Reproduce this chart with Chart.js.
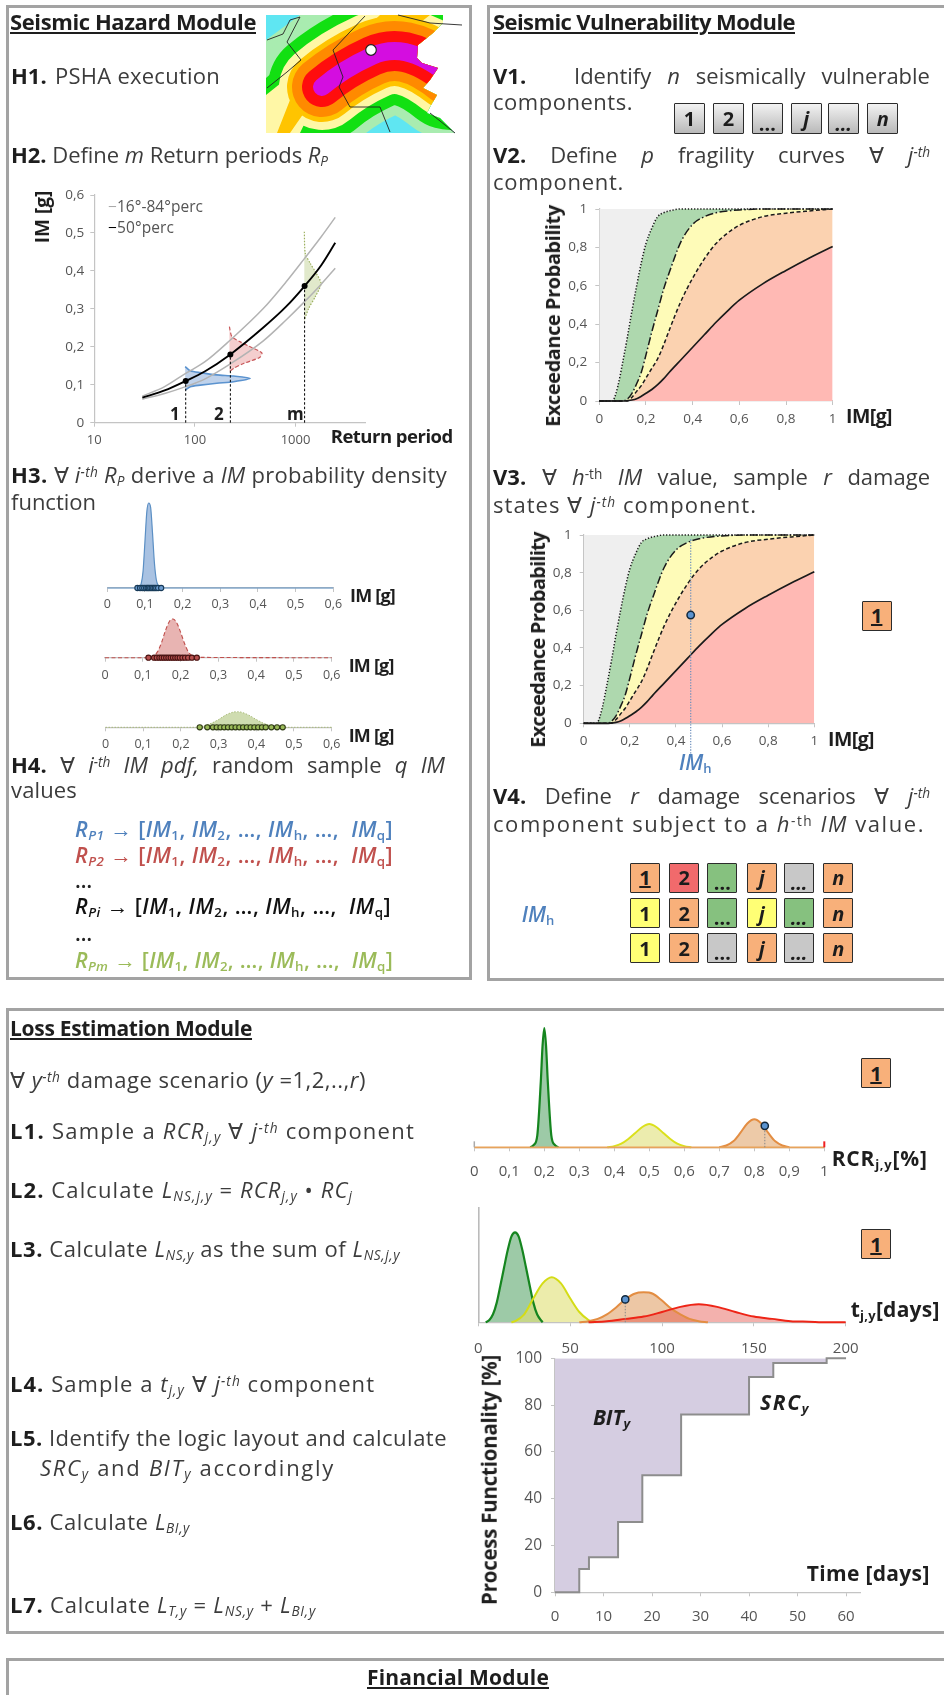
<!DOCTYPE html>
<html><head><meta charset="utf-8">
<script src="https://cdn.jsdelivr.net/npm/chart.js@4"></script>
<style>
html,body{margin:0;padding:0;background:#fff;width:944px;height:1695px;overflow:hidden}
#page{position:absolute;left:0;top:0;width:944px;height:1695px;overflow:hidden;filter:blur(.45px);font-family:"Open Sans",sans-serif;color:#3c3c3c}
.panel{position:absolute;border:3.5px solid #a3a3a3;box-sizing:border-box;background:#fff}
.t{position:absolute;white-space:pre;line-height:1.1}
.t sub,.t sup{font-size:.62em;line-height:0;vertical-align:baseline;position:relative}
.t sub{top:.22em}.t sup{top:-.42em}
.t b{color:#1e1e1e}
.box{position:absolute;box-sizing:border-box;border:1.6px solid #2c2c2c;display:flex;align-items:center;justify-content:center;font-weight:700;font-size:20px;color:#1c1c1c;border-radius:1px}
canvas{position:absolute;pointer-events:none}
</style></head><body><div id="page"></div>
<script>
// ---------- H2 hazard curves (Return period, IM)
const hazRp=[30,50,81,125,225,475,800,1230,1800,2480];
const hazMedian=[.066,.085,.11,.135,.18,.25,.305,.36,.415,.474];
const hazUpper=[.07,.095,.13,.16,.218,.3,.37,.433,.49,.541];
const hazLower=[.062,.077,.095,.115,.155,.215,.27,.319,.365,.407];
const pdfBlueRp=[80,90,113,165,242,354,242,165,113,90,80];
const pdfBlueIm=[.148,.137,.132,.126,.123,.117,.108,.104,.099,.095,.086];
const pdfRedRp=[220,233,282,354,463,440,304,242,220];
const pdfRedIm=[.253,.227,.213,.2,.184,.172,.156,.143,.134];
const pdfGreenRp=[1222,1250,1400,1570,1790,1570,1350,1222];
const pdfGreenIm=[.503,.446,.42,.398,.367,.332,.301,.27];
const returnMarksRp=[81,225,1230];
const returnMarksIm=[.11,.18,.36];
const hazTicksX=[10,100,1000];
// ---------- H3 IM pdfs
const h3BlueX=[0,.08,.085,.09,.095,.1,.105,.11,.115,.12,.125,.13,.135,.14,.145,.6];
const h3BlueY=[0,0,.01,.05,.2,.55,.9,1,.95,.65,.3,.1,.03,.01,0,0];
const h3BlueSamples=[.08,.087,.093,.098,.103,.107,.11,.114,.118,.122,.126,.13,.135,.143];
const h3RedX=[0,.115,.12,.13,.14,.15,.16,.17,.18,.19,.2,.21,.22,.23,.24,.6];
const h3RedY=[0,0,.01,.05,.17,.4,.7,.93,1,.9,.66,.38,.16,.05,.01,0];
const h3RedSamples=[.115,.13,.137,.144,.15,.156,.162,.168,.174,.18,.186,.192,.198,.205,.212,.22,.23,.243];
const h3GreenX=[0,.24,.26,.28,.3,.32,.34,.35,.36,.38,.4,.42,.44,.46,.48,.6];
const h3GreenY=[0,0,.08,.25,.5,.8,.98,1,.97,.78,.5,.25,.1,.03,0,0];
const h3GreenSamples=[.25,.27,.285,.295,.305,.315,.325,.335,.345,.355,.365,.375,.385,.395,.405,.415,.425,.44,.455,.47];
// ---------- fragility curves
const fragIM=[0,.05,.06,.08,.1,.12,.14,.16,.18,.2,.225,.25,.275,.3,.35,.4,.45,.5,.55,.6,.7,.8,.9,1];
const fragSlight=[0,0,.005,.08,.2,.33,.47,.6,.72,.82,.9,.96,.98,.99,1,1,1,1,1,1,1,1,1,1];
const fragModerate=[0,0,0,0,0,.01,.04,.09,.15,.24,.36,.47,.58,.67,.83,.92,.96,.98,.99,.995,1,1,1,1];
const fragExtensive=[0,0,0,0,0,0,.02,.05,.08,.12,.17,.22,.29,.37,.52,.64,.74,.82,.875,.915,.96,.978,.99,1];
const fragComplete=[0,0,0,0,0,.002,.005,.012,.025,.04,.06,.085,.115,.15,.215,.28,.345,.41,.47,.525,.61,.68,.745,.805];
const fragTop=[1,1,1,1,1,1,1,1,1,1,1,1,1,1,1,1,1,1,1,1,1,1,1,1];
const imhValue=[.464];
const imhProb=[.575];
const imhLineY=[-.16,.98];
// ---------- RCR densities
const rcrGreenX=[.16,.17,.18,.19,.195,.2,.205,.21,.22,.23,.24];
const rcrGreenY=[0,.02,.1,.55,.85,1,.85,.55,.1,.02,0];
const rcrYellowX=[.38,.4,.42,.44,.46,.48,.5,.52,.54,.56,.58,.6,.62];
const rcrYellowY=[0,.01,.03,.07,.12,.17,.195,.17,.12,.07,.03,.01,0];
const rcrOrangeX=[.7,.72,.74,.76,.78,.8,.82,.84,.86,.88,.9];
const rcrOrangeY=[0,.015,.05,.12,.2,.235,.2,.12,.05,.015,0];
const rcrBaseX=[0,1];
const rcrBaseY=[0,0];
const rcrSampleX=[.83];
const rcrSampleY=[.18];
// ---------- repair-time densities
const tGreenX=[4,6,8,10,12,14,16,18,20,22,24,26,28,30,32,35];
const tGreenY=[0,.02,.07,.17,.32,.477,.63,.75,.787,.75,.63,.477,.32,.17,.07,0];
const tYellowX=[18,20,25,30,35,40,45,50,55,60,63];
const tYellowY=[0,.01,.07,.21,.34,.394,.34,.21,.09,.02,0];
const tOrangeX=[55,60,65,70,75,80,85,90,95,100,105,110,115,120,125];
const tOrangeY=[0,.01,.03,.07,.13,.2,.25,.262,.25,.19,.12,.07,.03,.01,0];
const tRedX=[60,70,80,90,100,110,120,130,140,150,160,170,180,190,200];
const tRedY=[0,.01,.03,.05,.09,.135,.157,.135,.09,.05,.03,.01,.005,0,0];
const tSampleX=[80];
const tSampleY=[.2];
// ---------- recovery curve
const recTime=[0,5,7,13,18,26,40,45,56,60];
const recFunc=[0,10,15,30,50,76,92,98,100,100];

const page=document.getElementById('page');
const el=(tag,css,html)=>{const e=document.createElement(tag);e.style.cssText=css;if(html!=null)e.innerHTML=html;page.appendChild(e);return e};
function panel(l,t,r,b){el('div',`left:${l}px;top:${t}px;width:${r-l}px;height:${b-t}px`).className='panel'}
function T(x,base,html,o={}){
  const e=el('div',`left:${x}px;top:0;font-size:${o.size||22}px;font-weight:${o.bold?700:(o.weight||400)};color:${o.color||'#3c3c3c'};${o.italic?'font-style:italic;':''}`,html);
  e.className='t';
  const m=document.createElement('span');m.style.cssText='display:inline-block;width:0;height:0';e.appendChild(m);
  if(o.w){const w=e.getBoundingClientRect().width,txt=e.textContent;
    if(o.ws){const n=(txt.match(/ /g)||[]).length;e.style.wordSpacing=((o.w-w)/n)+'px'}
    else e.style.letterSpacing=((o.w-w)/txt.length)+'px'}
  const d=m.getBoundingClientRect().bottom-e.getBoundingClientRect().top;
  e.style.top=(base-d)+'px';return e}
function V(cx,cy,html,o={}){ // rotated axis title
  const e=el('div',`left:${cx}px;top:${cy}px;transform:translate(-50%,-50%) rotate(-90deg);font-size:${o.size||18}px;font-weight:700;color:#1e1e1e`,html);
  e.className='t';
  if(o.w){const w=e.offsetWidth;e.style.letterSpacing=((o.w-w)/e.textContent.length)+'px'}
  return e}
function B(x,y,txt,bg,o={}){const e=el('div',`left:${x}px;top:${y}px;width:${o.w||30}px;height:${o.h||30}px;background:${bg};${o.italic?'font-style:italic;':''}${o.under?'text-decoration:underline;':''}${o.dots?'padding-top:9px;':''}`,txt);e.className='box';return e}

const pts=(xs,ys)=>xs.map((x,i)=>({x,y:ys[i]}));
const L=(xs,ys,o={})=>Object.assign({type:'line',data:pts(xs,ys),borderColor:'#000',borderWidth:1.6,pointRadius:0,fill:false,tension:0,clip:false},o);
const fmt=v=>String(+(+v).toFixed(2)).replace('.',',');
function plot(r,xc,yc,datasets){
  const m=70,A=50,cl=Math.floor(r.l-m),ct=Math.floor(r.t-m),cw=Math.ceil(r.r+m)-cl,ch=Math.ceil(r.b+m)-ct;
  const c=el('canvas',`left:${cl}px;top:${ct}px;width:${cw}px;height:${ch}px`);c.width=cw;c.height=ch;
  datasets.forEach((d,i)=>{d.order=datasets.length-i});
  new Chart(c,{data:{datasets},options:{responsive:false,animation:false,devicePixelRatio:1,events:[],
    layout:{autoPadding:false,padding:{left:r.l-cl-A,top:r.t-ct,right:cl+cw-r.r,bottom:ct+ch-r.b-A}},
    plugins:{legend:{display:false},tooltip:{enabled:false},title:{display:false},filler:{drawTime:'beforeDatasetsDraw'}},
    scales:{x:Object.assign({position:'bottom',afterFit:s=>{s.height=A}},xc),y:Object.assign({position:'left',afterFit:s=>{s.width=A}},yc)}}});
}
const xAx=(type,min,max,step,size,pad,extra={})=>Object.assign({type,min,max,offset:false,
  border:{color:'#c4c4c4',width:1.2},grid:{drawOnChartArea:false,color:'#c4c4c4',tickLength:4},
  ticks:{stepSize:step,autoSkip:false,maxRotation:0,includeBounds:false,padding:pad,color:'#555',font:{size,family:'"Open Sans"'},callback:v=>fmt(v)}},extra);
const yAx=(min,max,step,size,pad)=>({type:'linear',min,max,border:{color:'#c4c4c4',width:1.2},grid:{drawOnChartArea:false,color:'#c4c4c4',tickLength:4},
  ticks:{stepSize:step,autoSkip:false,includeBounds:false,padding:pad,color:'#555',font:{size,family:'"Open Sans"'},callback:v=>fmt(v)}});
const noY=(max)=>({type:'linear',min:0,max,display:false});

/* ===== panels ===== */
panel(6,5,472,980);panel(487,5,960,981);panel(6,1008,960,1634);panel(6,1658,960,1720);

/* ===== map ===== */
const map=document.createElementNS('http://www.w3.org/2000/svg','svg');
map.setAttribute('width','944');map.setAttribute('height','160');map.style.cssText='position:absolute;left:0;top:0';
const cp='M322,87 C335,76 352,65 372,56 S415,48 450,76';
map.innerHTML=`<defs><clipPath id="mc"><polygon points="266,15 443,15 443,23 433,33 418,45 417,58 422,63 438,68 430,80 423,88 437,95 430,107 427,113 440,118 455,133 266,133"/></clipPath></defs>
<g clip-path="url(#mc)" fill="none" stroke-linecap="round"><rect x="266" y="15" width="200" height="118" fill="#5fe6f2"/>
<polygon points="266,40 300,15 430,15 372,60 322,87 266,133" fill="#a9ecb0" stroke="none"/><path d="${cp}" stroke="#a9ecb0" stroke-width="127"/>
<polygon points="266,78 338,15 430,15 372,60 322,87 266,133" fill="#12e012" stroke="none"/><path d="${cp}" stroke="#12e012" stroke-width="108"/>
<polygon points="266,95 366,15 430,15 372,60 322,87 300,133 266,133" fill="#fff7a6" stroke="none"/><path d="${cp}" stroke="#fff7a6" stroke-width="86"/>
<polygon points="277,133 290,100 380,15 430,15 372,60 322,87 290,133" fill="#ffc400" stroke="none"/><path d="${cp}" stroke="#ffc400" stroke-width="70"/>
<path d="${cp}" stroke="#ff8a00" stroke-width="60"/><path d="${cp}" stroke="#ff0d0d" stroke-width="40"/><path d="${cp}" stroke="#d40de0" stroke-width="18"/></g>
<g fill="none" stroke="#222" stroke-width=".9"><polyline points="267,40 283,34 290,20 300,17"/><polyline points="267,88 287,72 301,60 287,42 300,17"/><polyline points="365,16 333,50 343,77 339,87 350,107 380,107 390,132"/><polyline points="398,15 430,23 462,25"/><polyline points="430,113 455,133"/></g>
<circle cx="371" cy="50" r="5.3" fill="#fff" stroke="#222" stroke-width="1.2"/>`;
page.appendChild(map);

/* ===== left text ===== */
T(10,30,'<u>Seismic Hazard Module</u>',{bold:true,w:246,color:'#1e1e1e'});
T(11,84,'H1.',{bold:true,color:'#1e1e1e'});T(55,84,'PSHA execution',{w:165});
T(11,163,'<b>H2.</b> Define <i>m</i> Return periods <i>R<sub>P</sub></i>',{w:317});
T(11,483,'<b>H3.</b> ∀ <i>i<sup>-th</sup> R<sub>P</sub></i> derive a <i>IM</i> probability density',{w:436});
T(11,510,'function',{w:85});
T(11,773,'<b>H4.</b> ∀ <i>i<sup>-th</sup> IM pdf,</i> random sample <i>q IM</i>',{w:434,ws:true});
T(11,798,'values',{w:66});
const rpRow=(r)=>`<i>R<sub>${r}</sub></i> → [<i>IM</i><sub>1</sub>, <i>IM</i><sub>2</sub>, …, <i>IM</i><sub>h</sub>, …,  <i>IM</i><sub>q</sub>]`;
T(75,837,rpRow('P1'),{w:318,weight:600,color:'#4f81bd',size:21.5});
T(75,863,rpRow('P2'),{w:318,weight:600,color:'#c0504d',size:21.5});
T(75,888,'…',{size:21,weight:600,color:'#222'});
T(75,914,rpRow('Pi'),{w:316,weight:600,color:'#111',size:21.5});
T(75,941,'…',{size:21,weight:600,color:'#222'});
T(75,968,rpRow('Pm'),{w:318,weight:600,color:'#9bbb59',size:21.5});

/* ===== H2 chart ===== */
plot({l:94.3,r:365,t:195,b:422.7},
 xAx('logarithmic',10,4900,null,13,6,{afterBuildTicks:s=>{s.ticks=hazTicksX.map(value=>({value}))}}),
 yAx(0,.6,.1,13.5,6),
 [L(pdfBlueRp,pdfBlueIm,{fill:'shape',backgroundColor:'rgba(170,195,228,.75)',borderColor:'#5b93cf',tension:.25}),
  L(pdfRedRp,pdfRedIm,{fill:'shape',backgroundColor:'rgba(240,190,190,.75)',borderColor:'#c8585a',borderDash:[4,2],borderWidth:1.2,tension:.25}),
  L(pdfGreenRp,pdfGreenIm,{fill:'shape',backgroundColor:'rgba(218,228,190,.8)',borderColor:'#9db060',borderDash:[1.5,1.5],borderWidth:1.2,tension:.25}),
  L(hazRp,hazUpper,{borderColor:'#b3b3b3',borderWidth:1.5,cubicInterpolationMode:'monotone'}),
  L(hazRp,hazLower,{borderColor:'#b3b3b3',borderWidth:1.5,cubicInterpolationMode:'monotone'}),
  L(hazRp,hazMedian,{borderColor:'#000',borderWidth:1.9,cubicInterpolationMode:'monotone'}),
  L([returnMarksRp[0],returnMarksRp[0]],[0,returnMarksIm[0]],{borderWidth:1,borderDash:[2.5,2]}),
  L([returnMarksRp[1],returnMarksRp[1]],[0,returnMarksIm[1]],{borderWidth:1,borderDash:[2.5,2]}),
  L([returnMarksRp[2],returnMarksRp[2]],[0,returnMarksIm[2]],{borderWidth:1,borderDash:[2.5,2]}),
  L(returnMarksRp,returnMarksIm,{showLine:false,pointRadius:2.2,pointBackgroundColor:'#000',pointBorderColor:'#000'})]);
V(42,217,'IM [g]',{size:19,w:52});
T(108,212,'<span style="color:#aaa">−</span>16°-84°perc',{size:15.5,w:95,color:'#555'});
T(108,233,'<span style="color:#000">−</span>50°perc',{size:15.5,w:66,color:'#555'});
T(330.7,443,'Return period',{bold:true,size:18.5,w:122,color:'#1e1e1e'});
T(170,420,'1',{bold:true,size:17,color:'#1e1e1e'});T(214,420,'2',{bold:true,size:17,color:'#1e1e1e'});T(287,420,'m',{bold:true,size:17,color:'#1e1e1e'});

/* ===== H3 charts ===== */
const sampleSet=(xs,fill,stroke)=>L(xs,xs.map(()=>0),{showLine:false,pointRadius:2.6,pointBackgroundColor:fill,pointBorderColor:stroke,pointBorderWidth:1.1});
plot({l:107.3,r:333.3,t:503,b:588},xAx('linear',0,.6,.1,12.5,5),noY(1),
 [L(h3BlueX,h3BlueY,{fill:'origin',backgroundColor:'#a9c2e2',borderColor:'#5b8fc4',borderWidth:1.2,cubicInterpolationMode:'monotone'}),sampleSet(h3BlueSamples,'#6b9bcf','#173a58')]);
plot({l:105,r:331.7,t:619,b:657.7},xAx('linear',0,.6,.1,12.5,6),noY(1),
 [L(h3RedX,h3RedY,{fill:'origin',backgroundColor:'#e8b4b2',borderColor:'#c0504d',borderDash:[4,2.5],borderWidth:1.1,cubicInterpolationMode:'monotone'}),sampleSet(h3RedSamples,'#b8514f','#4a1413')]);
plot({l:105.5,r:331.7,t:711.7,b:727.3},xAx('linear',0,.6,.1,12.5,6),noY(1),
 [L(h3GreenX,h3GreenY,{fill:'origin',backgroundColor:'#cfdcb0',borderColor:'#a8bb78',borderDash:[1.5,1.5],borderWidth:1,cubicInterpolationMode:'monotone'}),sampleSet(h3GreenSamples,'#9bbb59','#2f3a16')]);
T(350,601.7,'IM [g]',{bold:true,size:18,w:45,color:'#1e1e1e'});
T(348.7,671.7,'IM [g]',{bold:true,size:18,w:45,color:'#1e1e1e'});
T(348.7,741.7,'IM [g]',{bold:true,size:18,w:45,color:'#1e1e1e'});

/* ===== right text ===== */
T(493,30,'<u>Seismic Vulnerability Module</u>',{bold:true,w:302,color:'#1e1e1e'});
T(493,84,'<b>V1.</b>   Identify <i>n</i> seismically vulnerable',{w:437,ws:true});
T(493,110,'components.',{w:140});
T(493,163,'<b>V2.</b> Define <i>p</i> fragility curves ∀ <i>j<sup>-th</sup></i>',{w:437,ws:true});
T(493,190,'component.',{w:131});
T(493,485,'<b>V3.</b> ∀ <i>h</i><sup>-th</sup> <i>IM</i> value, sample <i>r</i> damage',{w:437,ws:true});
T(493,513,'states ∀ <i>j<sup>-th</sup></i> component.',{w:264});
T(493,804,'<b>V4.</b> Define <i>r</i> damage scenarios ∀ <i>j<sup>-th</sup></i>',{w:437,ws:true});
T(493,832,'component subject to a <i>h</i><sup>-th</sup> <i>IM</i> value.',{w:432});
const btnBg='linear-gradient(#f2f2f2,#b9b9b9)';
const btnX=[674,713,751.7,790.7,828,867.3],btnT=['1','2','…','j','…','n'];
btnX.forEach((x,i)=>B(x,103,btnT[i],btnBg,{w:31,h:31,italic:i>2,dots:btnT[i]=='…'}));
const cO='#f8b07a',cR='#f16a6c',cG='#86c17f',cA='#c8c8c8',cY='#ffff75';
const gridX=[630,669.3,707.3,746.7,784,823.3],gridY=[862.7,898.3,933.3];
const gridCol=[[cO,cR,cG,cO,cA,cO],[cY,cO,cG,cY,cG,cO],[cY,cO,cA,cO,cA,cO]];
gridY.forEach((y,r)=>gridX.forEach((x,i)=>B(x,y,btnT[i],gridCol[r][i],{italic:i>2,dots:btnT[i]=='…',under:r==0&&i==0})));
B(861.7,600.7,'1',cO,{under:true});
B(861,1058,'1',cO,{under:true});B(861,1229,'1',cO,{under:true});
T(521.7,921.7,'<i>IM</i><sub>h</sub>',{weight:600,color:'#4f81bd',size:21});

/* ===== fragility charts ===== */
function fragDatasets(){return [
 L(fragIM,fragComplete,{fill:'origin',backgroundColor:'#ffb9b4',borderColor:'#1a1a1a',borderWidth:1.7,cubicInterpolationMode:'monotone'}),
 L(fragIM,fragExtensive,{fill:'-1',backgroundColor:'#fbd2b0',borderColor:'#1a1a1a',borderWidth:1.5,borderDash:[4,2.5],cubicInterpolationMode:'monotone'}),
 L(fragIM,fragModerate,{fill:'-1',backgroundColor:'#fefbb8',borderColor:'#1a1a1a',borderWidth:1.5,borderDash:[8,2.5,1.5,2.5],cubicInterpolationMode:'monotone'}),
 L(fragIM,fragSlight,{fill:'-1',backgroundColor:'#aed8ae',borderColor:'#1a1a1a',borderWidth:1.5,borderDash:[1.3,1.8],cubicInterpolationMode:'monotone'}),
 L(fragIM,fragTop,{fill:'-1',backgroundColor:'#efefef',borderColor:'rgba(0,0,0,0)',borderWidth:0})]}
plot({l:599.3,r:832.7,t:209,b:401},xAx('linear',0,1,.2,13.5,6),yAx(0,1,.2,13.5,8),fragDatasets());
V(553,316,'Exceedance Probability',{size:20,w:222});
T(846,423,'IM[g]',{bold:true,size:19.5,w:46,color:'#1e1e1e'});
plot({l:583.7,r:814.3,t:535,b:723.3},xAx('linear',0,1,.2,13.5,6),yAx(0,1,.2,13.5,8),
 fragDatasets().concat([
  L([imhValue[0],imhValue[0]],imhLineY,{borderColor:'#6d8fbd',borderWidth:1.2,borderDash:[1.3,1.5]}),
  L(imhValue,imhProb,{showLine:false,pointRadius:3.7,pointBackgroundColor:'#5b93cf',pointBorderColor:'#12283c',pointBorderWidth:1.5})]));
V(538,640,'Exceedance Probability',{size:20,w:216});
T(828,746,'IM[g]',{bold:true,size:19.5,w:46,color:'#1e1e1e'});
T(679,770,'<i>IM</i><sub>h</sub>',{weight:600,color:'#4f81bd',size:21});

/* ===== loss text ===== */
T(10,1036,'<u>Loss Estimation Module</u>',{bold:true,w:242,color:'#1e1e1e',size:21});
T(10,1088,'∀ <i>y<sup>-th</sup></i> damage scenario (<i>y</i> =1,2,..,<i>r</i>)',{w:356});
T(10,1139,'<b>L1.</b> Sample a <i>RCR<sub>j,y</sub></i> ∀ <i>j<sup>-th</sup></i> component',{w:405});
T(10,1198,'<b>L2.</b> Calculate <i>L<sub>NS,j,y</sub></i> = <i>RCR<sub>j,y</sub></i> • <i>RC<sub>j</sub></i>',{w:343});
T(10,1257,'<b>L3.</b> Calculate <i>L<sub>NS,y</sub></i> as the sum of <i>L<sub>NS,j,y</sub></i>',{w:390});
T(10,1392,'<b>L4.</b> Sample a <i>t<sub>j,y</sub></i> ∀ <i>j<sup>-th</sup></i> component',{w:365});
T(10,1446,'<b>L5.</b> Identify the logic layout and calculate',{w:437});
T(40,1476,'<i>SRC<sub>y</sub></i> and <i>BIT<sub>y</sub></i> accordingly',{w:295});
T(10,1530,'<b>L6.</b> Calculate <i>L<sub>BI,y</sub></i>',{w:180});
T(10,1613,'<b>L7.</b> Calculate <i>L<sub>T,y</sub></i> = <i>L<sub>NS,y</sub></i> + <i>L<sub>BI,y</sub></i>',{w:306});
T(367,1685,'<u>Financial Module</u>',{bold:true,w:182,color:'#1e1e1e',size:21});

/* ===== RCR chart ===== */
const dens=(xs,ys,stroke,fill,w)=>L(xs,ys,{fill:'origin',backgroundColor:fill,borderColor:stroke,borderWidth:w||2,cubicInterpolationMode:'monotone'});
plot({l:474.3,r:824.3,t:1028,b:1147.3},xAx('linear',0,1,.1,15,11),noY(1),
 [dens(rcrGreenX,rcrGreenY,'#15851f','rgba(60,150,80,.5)',2.2),
  dens(rcrYellowX,rcrYellowY,'#dbe01c','rgba(228,228,140,.7)'),
  dens(rcrOrangeX,rcrOrangeY,'#e38d42','rgba(226,170,115,.62)'),
  L(rcrBaseX,rcrBaseY,{borderColor:'#e7a35c',borderWidth:1.8}),
  L([rcrBaseX[0],rcrBaseX[0]],[0,.05],{borderColor:'#aaa',borderWidth:1.5}),
  L([rcrBaseX[1],rcrBaseX[1]],[0,.05],{borderColor:'#f02020',borderWidth:2}),
  L([rcrSampleX[0],rcrSampleX[0]],[0,rcrSampleY[0]],{borderColor:'#888',borderWidth:1,borderDash:[1.5,1.5]}),
  L(rcrSampleX,rcrSampleY,{showLine:false,pointRadius:3.6,pointBackgroundColor:'#5b93cf',pointBorderColor:'#12283c',pointBorderWidth:1.5})]);
T(831.7,1166,'RCR<sub>j,y</sub>[%]',{bold:true,size:21,w:96,color:'#1e1e1e'});

/* ===== repair time chart ===== */
plot({l:478.3,r:845.7,t:1208,b:1322.3},xAx('linear',0,200,50,15,13),
 {type:'linear',min:0,max:1,border:{color:'#bbb',width:1.6},grid:{display:false},ticks:{display:false}},
 [dens(tGreenX,tGreenY,'#15851f','rgba(60,150,80,.5)',2.2),
  dens(tYellowX,tYellowY,'#d4dc16','rgba(225,225,120,.62)'),
  dens(tOrangeX,tOrangeY,'#e38d42','rgba(226,165,110,.62)'),
  dens(tRedX,tRedY,'#ee2416','rgba(226,70,60,.42)'),
  L([tSampleX[0],tSampleX[0]],[0,tSampleY[0]],{borderColor:'#888',borderWidth:1,borderDash:[1.5,1.5]}),
  L(tSampleX,tSampleY,{showLine:false,pointRadius:3.6,pointBackgroundColor:'#5b93cf',pointBorderColor:'#12283c',pointBorderWidth:1.5})]);
T(850.7,1317,'t<sub>j,y</sub>[days]',{bold:true,size:21,w:89,color:'#1e1e1e'});

/* ===== recovery chart ===== */
plot({l:555,r:860.6,t:1358.3,b:1592.3},xAx('linear',0,63,10,15,11),yAx(0,100,20,15.5,9),
 [L(recTime,recFunc,{stepped:true,fill:{value:100},backgroundColor:'#d5cde1',borderColor:'#8d8d8d',borderWidth:2})]);
V(489,1480,'Process Functionality [%]',{size:20.5,w:250});
T(806.7,1580.7,'Time [days]',{bold:true,size:21,w:123,color:'#1e1e1e'});
T(593,1425,'<i>BIT<sub>y</sub></i>',{bold:true,size:21,w:37,color:'#1e1e1e'});
T(760,1410,'<i>SRC<sub>y</sub></i>',{bold:true,size:21,w:50,color:'#1e1e1e'});
</script></body></html>
